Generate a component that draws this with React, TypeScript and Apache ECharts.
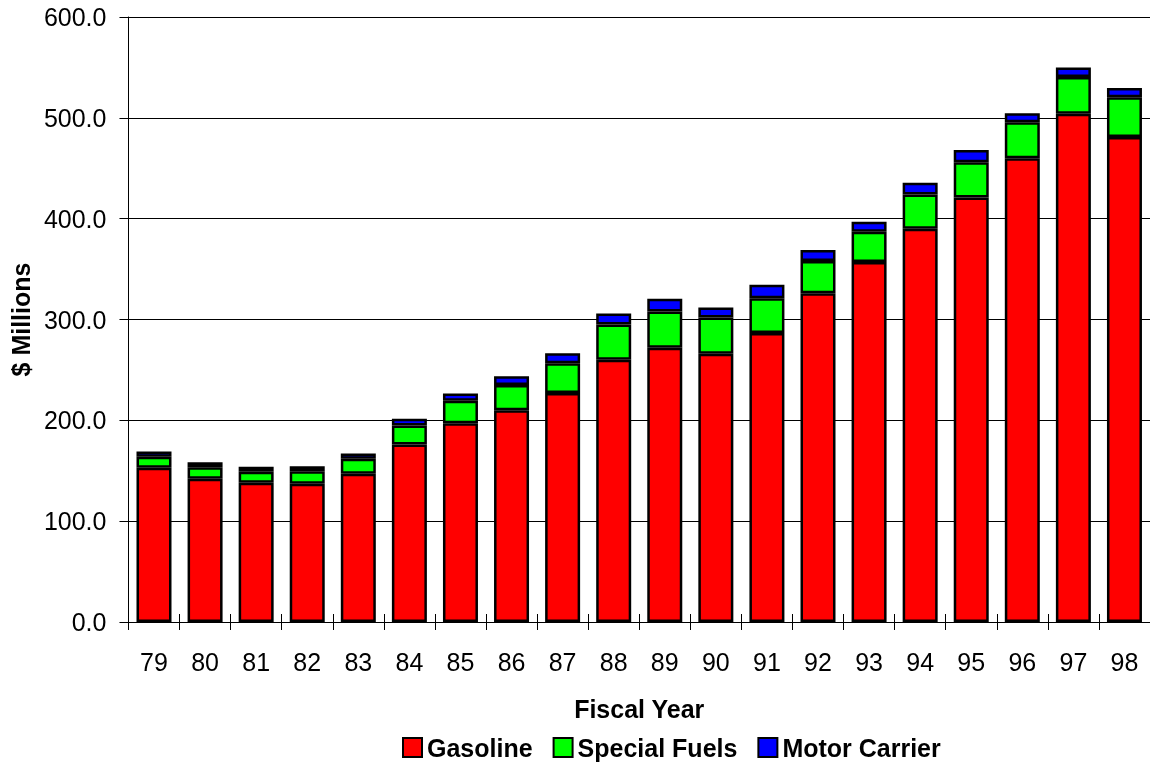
import React, { useEffect, useRef } from "react";
import * as echarts from "echarts";

const years = ["79","80","81","82","83","84","85","86","87","88","89","90","91","92","93","94","95","96","97","98"];
const gasoline = [153,142,138,137,147,176,197,210,227,260,272,266,286.5,326,357,390,421,460,504,481];
const specialFuels = [11,11.5,11,12.5,15,19,22.5,25,29.5,35,36,36,34.5,32,30,34,35,35.5,36.5,39.5];
const motorCarrier = [5,5,5,5,5,6.5,7,8.7,10,11,12.5,10,13.5,11,10,11.6,12,9,9.5,9];
const yTicks = [0,100,200,300,400,500,600];

const FONT = "'Liberation Sans', Arial, sans-serif";
const FS = 25;

export default function App() {
  const ref = useRef<HTMLDivElement>(null);
  useEffect(() => {
    if (!ref.current) return;
    const chart = echarts.init(ref.current, null, { renderer: "svg" });
    const mk = (name: string, data: number[], color: string) => ({
      name,
      type: "bar",
      stack: "total",
      data,
      barWidth: 35,
      itemStyle: { color, borderColor: "#000", borderWidth: 2.5 },
      emphasis: { disabled: true },
    });
    chart.setOption({
      animation: false,
      textStyle: { fontFamily: FONT },
      grid: { left: 126, right: 0, top: 17, bottom: 141, containLabel: false },
      legend: {
        top: 735,
        left: 402,
        padding: 0,
        itemWidth: 19,
        itemHeight: 19,
        itemGap: 20,
        icon: "rect",
        itemStyle: { borderColor: "#000", borderWidth: 2 },
        textStyle: { fontFamily: FONT, fontSize: FS, fontWeight: "bold", color: "#000" },
        data: ["Gasoline", "Special Fuels", "Motor Carrier"],
      },
      xAxis: [
        {
          type: "category",
          data: years,
          position: "bottom",
          axisLine: { lineStyle: { color: "#000", width: 1 } },
          axisTick: { show: true, length: 8, lineStyle: { color: "#000" } },
          axisLabel: { fontFamily: FONT, fontSize: FS, color: "#000", margin: 27 },
          name: "Fiscal Year",
          nameLocation: "middle",
          nameGap: 74,
          nameTextStyle: { fontFamily: FONT, fontSize: FS, fontWeight: "bold", color: "#000" },
        },
        {
          type: "category",
          data: years,
          position: "bottom",
          axisLine: { show: false },
          axisTick: { show: true, inside: true, length: 8, lineStyle: { color: "#000" } },
          axisLabel: { show: false },
        },
      ],
      yAxis: {
        type: "value",
        min: yTicks[0],
        max: yTicks[yTicks.length - 1],
        interval: 100,
        axisLine: { show: true, lineStyle: { color: "#000", width: 1 } },
        axisTick: { show: true, length: 9, lineStyle: { color: "#000" } },
        splitLine: { show: true, lineStyle: { color: "#000", width: 1 } },
        axisLabel: {
          fontFamily: FONT,
          fontSize: FS,
          color: "#000",
          margin: 22,
          formatter: (v: number) => v.toFixed(1),
        },
        name: "$ Millions",
        nameLocation: "middle",
        nameRotate: 90,
        nameGap: 92,
        nameTextStyle: { fontFamily: FONT, fontSize: FS, fontWeight: "bold", color: "#000" },
      },
      series: [
        mk("Gasoline", gasoline, "#ff0000"),
        mk("Special Fuels", specialFuels, "#00ff00"),
        mk("Motor Carrier", motorCarrier, "#0000ff"),
      ],
    });
    return () => chart.dispose();
  }, []);
  return <div ref={ref} style={{ position: "fixed", left: 0, top: 0, width: 1150, height: 763 }} />;
}
